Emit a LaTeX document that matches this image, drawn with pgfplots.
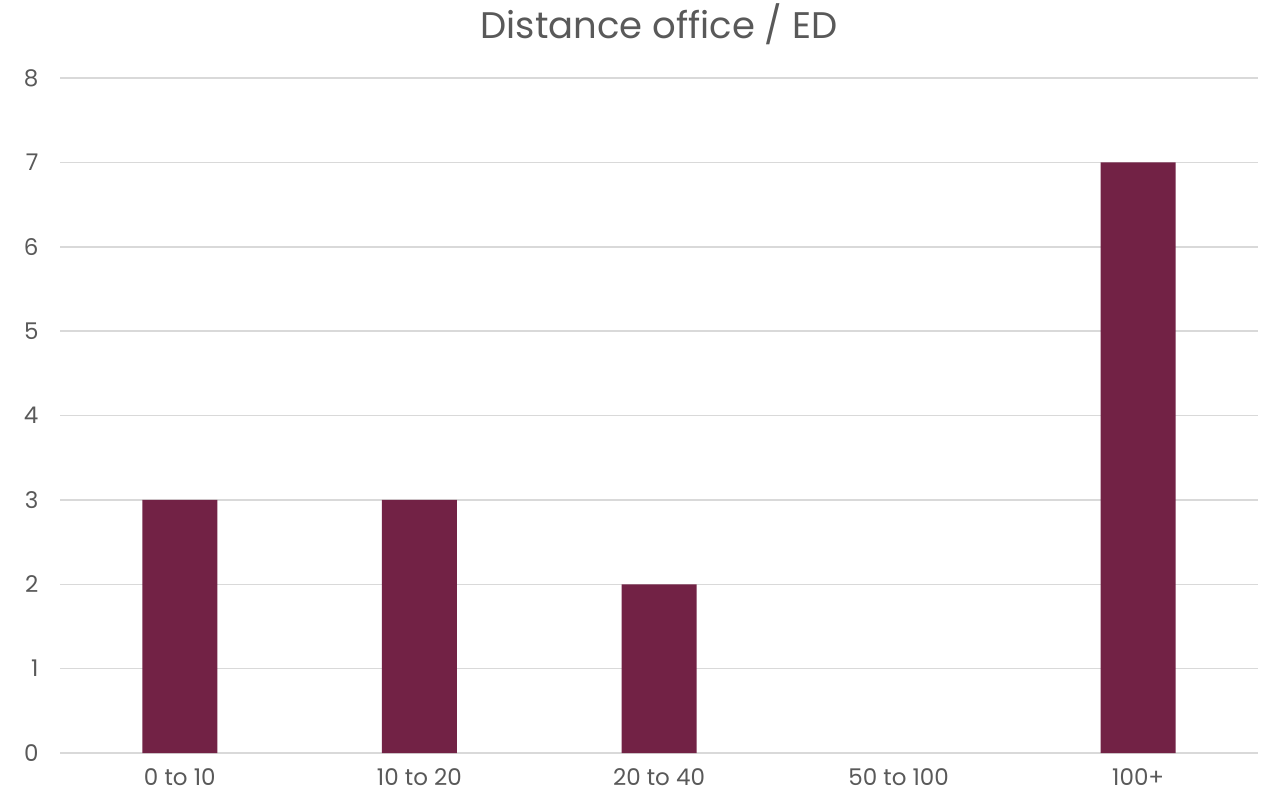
\documentclass[border=0pt]{standalone}
\usepackage{pgfplots}
\pgfplotsset{compat=1.18}
\usepackage{fontspec}
\setmainfont{Poppins}
\definecolor{barc}{HTML}{722245}
\definecolor{gridc}{HTML}{D9D9D9}
\definecolor{txt}{HTML}{595959}
\begin{document}
\begin{tikzpicture}
\begin{axis}[
  scale only axis,
  width=1198pt, height=675pt,
  xmin=-0.5, xmax=4.5, ymin=0, ymax=8,
  ytick={0,...,8},
  xtick={0,1,2,3,4},
  xticklabels={0 to 10,10 to 20,20 to 40,50 to 100,100+},
  axis line style={draw=none},
  major tick length=0pt,
  ymajorgrids, grid style={gridc, line width=1.5pt},
  tick label style={font=\fontsize{23}{27}\selectfont, text=txt},
  /pgf/number format/assume math mode=true,
  yticklabel style={xshift=-18pt},
  xticklabel style={yshift=-12pt},
  title={Distance office / ED},
  title style={font=\fontsize{37}{44}\selectfont, text=txt, yshift=24pt},
  clip=false,
]
\addplot[ybar, bar width=75pt, fill=barc, draw=none] coordinates {(0,3) (1,3) (2,2) (4,7)};
\end{axis}
\path (current axis.south west) ++(-60pt,-44pt) coordinate (bl);
\path (current axis.north east) ++(13pt,77pt) coordinate (tr);
\path (bl) rectangle (tr);
\end{tikzpicture}
\end{document}
